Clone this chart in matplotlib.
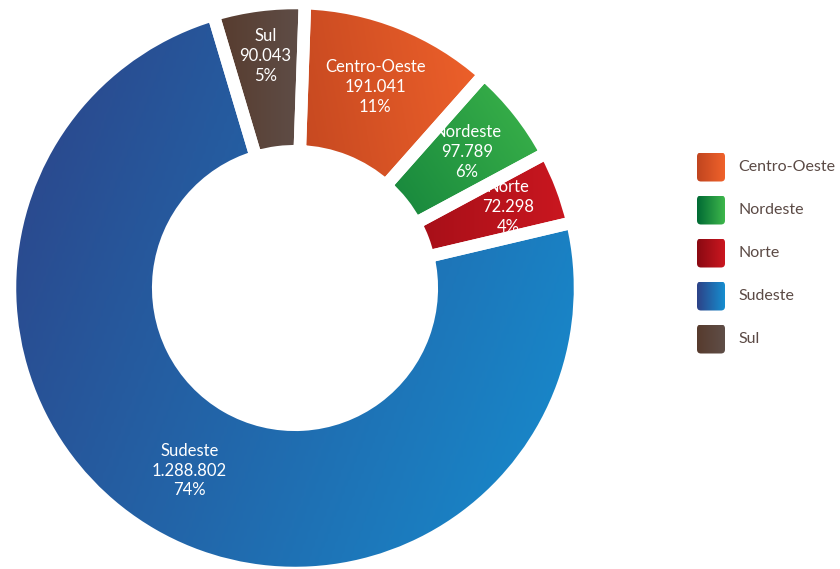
import numpy as np
import matplotlib
matplotlib.use('Agg')
import matplotlib.pyplot as plt
from matplotlib.colors import LinearSegmentedColormap
from matplotlib.patches import FancyBboxPatch

plt.rcParams['font.family'] = ['Lato', 'DejaVu Sans']

# dados
regioes = ['Centro-Oeste', 'Nordeste', 'Norte', 'Sudeste', 'Sul']
valores = [191041, 97789, 72298, 1288802, 90043]

# cores do gradiente (inicio -> fim) e angulo do gradiente
cores_ini = ['#c0451f', '#006a34', '#8a0912', '#2d4287', '#573b2d']
cores_fim = ['#f0622b', '#3eb74b', '#cb1720', '#168ed0', '#5f4e48']
angulos = [15, 30, 0, -20, 0]
dist_rotulo = [0.76, 0.77, 0.80, 0.74, 0.82]

total = sum(valores)
fmt_valor = [f"{v:,}".replace(',', '.') for v in valores]
fmt_pct = [f"{round(v / total * 100)}%" for v in valores]

W, H = 840, 569
fig = plt.figure(figsize=(W / 100, H / 100), dpi=100)

cx, cy, R = 295, H - 288, 285
ax = fig.add_axes([(cx - R) / W, (cy - R) / H, 2 * R / W, 2 * R / H])

wedges, _ = ax.pie(valores, startangle=88, counterclock=False, radius=1,
                   wedgeprops=dict(width=0.52, edgecolor='white', linewidth=9),
                   frame=False)


def gradiente(ang):
    xx, yy = np.meshgrid(np.linspace(0, 1, 200), np.linspace(0, 1, 200))
    a = np.deg2rad(ang)
    g = np.cos(a) * xx + np.sin(a) * yy
    return (g - g.min()) / (g.max() - g.min())


for i, w in enumerate(wedges):
    v = w.get_path().vertices
    x0, y0 = v.min(0)
    x1, y1 = v.max(0)
    cmap = LinearSegmentedColormap.from_list('g%d' % i, [cores_ini[i], cores_fim[i]])
    im = ax.imshow(gradiente(angulos[i]), cmap=cmap, extent=(x0, x1, y0, y1),
                   origin='lower', aspect='auto', zorder=1, interpolation='bilinear')
    im.set_clip_path(w)
    w.set_facecolor('none')
    w.set_zorder(2)

    mid = np.deg2rad((w.theta1 + w.theta2) / 2)
    r = dist_rotulo[i]
    ax.text(r * np.cos(mid), r * np.sin(mid),
            f"{regioes[i]}\n{fmt_valor[i]}\n{fmt_pct[i]}",
            ha='center', va='center', color='white', fontsize=12,
            linespacing=1.3, zorder=3)

ax.set_xlim(-1, 1)
ax.set_ylim(-1, 1)
ax.set_aspect('auto')
ax.axis('off')

# legenda
lax = fig.add_axes([0, 0, 1, 1])
lax.set_xlim(0, W)
lax.set_ylim(H, 0)
lax.axis('off')
y0, passo = 167, 43
for i, nome in enumerate(regioes):
    yc = y0 + i * passo
    box = FancyBboxPatch((697, yc - 14.5), 28, 29,
                         boxstyle='round,pad=0,rounding_size=4',
                         facecolor='none', edgecolor='none')
    lax.add_patch(box)
    cmap = LinearSegmentedColormap.from_list('l%d' % i, [cores_ini[i], cores_fim[i]])
    im = lax.imshow(gradiente(0), cmap=cmap, extent=(697, 725, yc + 14.5, yc - 14.5),
                    aspect='auto', interpolation='bilinear')
    im.set_clip_path(box)
    lax.text(738, yc, nome, ha='left', va='center', fontsize=11.5, color='#5b4a45')
lax.set_xlim(0, W)
lax.set_ylim(H, 0)
lax.set_aspect('auto')

fig.savefig('out.png', dpi=100)
